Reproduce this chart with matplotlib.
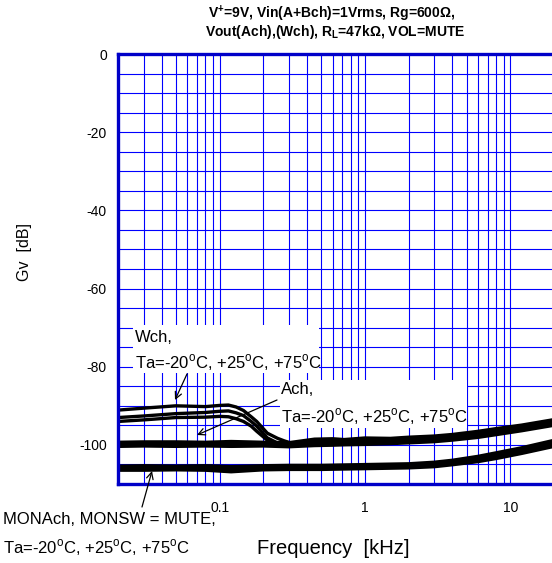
import matplotlib
matplotlib.use('Agg')
import matplotlib.pyplot as plt
from matplotlib.patches import Rectangle
from matplotlib.ticker import FixedLocator, LogLocator, NullFormatter

plt.rcParams['font.family'] = ['Liberation Sans', 'DejaVu Sans']
plt.rcParams['mathtext.fontset'] = 'custom'
plt.rcParams['mathtext.rm'] = 'Liberation Sans'
plt.rcParams['mathtext.bf'] = 'Liberation Sans:bold'
plt.rcParams['axes.unicode_minus'] = False

# Wch, three temperatures
freq_w = [0.02, 0.03, 0.05, 0.08, 0.1, 0.115, 0.13, 0.146, 0.165, 0.18, 0.213, 0.25, 0.28, 0.31, 0.35]
wch_m20 = [-91.1, -90.6, -90.0, -90.2, -89.9, -89.8, -90.3, -91.2, -92.8, -94.0, -97.0, -98.3, -99.0, -99.5, -99.8]
wch_p25 = [-93.0, -92.6, -92.0, -91.7, -91.4, -91.3, -91.8, -92.5, -94.0, -95.2, -98.2, -99.5, -99.8, -99.9, -99.9]
wch_p75 = [-94.0, -93.6, -93.0, -92.9, -92.7, -92.8, -93.3, -94.0, -95.2, -96.5, -98.8, -99.9, -100.0, -100.0, -100.0]

# Ach, three temperatures
freq_a = [0.02, 0.03, 0.05, 0.08, 0.12, 0.2, 0.3, 0.45, 0.6, 0.72, 1, 1.5, 2, 3, 4, 6, 8, 12, 20]
ach_m20 = [-99.4, -99.3, -99.3, -99.4, -99.2, -99.4, -99.5, -98.6, -98.5, -98.7, -98.3, -98.4, -98.1, -97.8, -97.4, -96.6, -95.9, -95.0, -93.6]
ach_p25 = [-99.9, -99.9, -99.8, -99.8, -99.9, -99.8, -100.0, -99.4, -99.3, -99.3, -99.1, -99.0, -98.8, -98.5, -98.1, -97.3, -96.6, -95.6, -94.2]
ach_p75 = [-100.3, -100.2, -100.3, -100.2, -100.3, -100.2, -100.4, -100.1, -100.0, -99.9, -99.8, -99.6, -99.4, -99.1, -98.7, -98.0, -97.3, -96.3, -94.9]

# MONAch, MONSW = MUTE
freq_m = [0.02, 0.03, 0.05, 0.08, 0.12, 0.2, 0.3, 0.5, 1, 2, 3, 4, 6, 8, 12, 20]
mon_m20 = [-105.5, -105.4, -105.5, -105.4, -105.6, -105.4, -105.3, -105.3, -105.1, -104.9, -104.5, -104.0, -103.0, -102.1, -100.8, -98.9]
mon_p25 = [-106.0, -105.9, -106.0, -105.9, -106.3, -105.9, -105.8, -105.8, -105.6, -105.4, -105.0, -104.5, -103.6, -102.7, -101.5, -99.6]
mon_p75 = [-106.4, -106.4, -106.3, -106.4, -106.8, -106.3, -106.2, -106.2, -106.0, -105.8, -105.5, -105.0, -104.2, -103.4, -102.1, -100.3]

x_ticks = [0.1, 1, 10]
x_ticklabels = ['0.1', '1', '10']
y_ticks = [0, -20, -40, -60, -80, -100]

W, H = 552, 563
fig = plt.figure(figsize=(W / 100, H / 100), dpi=100)
ax = fig.add_axes([118 / W, 1 - 484 / H, (554 - 118) / W, (484 - 54) / H])

for f, ys in [(freq_w, wch_m20), (freq_w, wch_p25), (freq_w, wch_p75)]:
    ax.plot(f, ys, color='black', lw=2.4, zorder=2, solid_capstyle='butt')
for f, ys in [(freq_a, ach_m20), (freq_a, ach_p25), (freq_a, ach_p75),
              (freq_m, mon_m20), (freq_m, mon_p25), (freq_m, mon_p75)]:
    ax.plot(f, ys, color='black', lw=2.8, zorder=2, solid_capstyle='butt')

ax.set_xscale('log')
ax.set_xlim(0.02, 20)
ax.set_ylim(-110, 0)
ax.xaxis.set_major_locator(FixedLocator(x_ticks))
ax.set_xticklabels(x_ticklabels)
ax.xaxis.set_minor_locator(LogLocator(base=10, subs=range(2, 10)))
ax.xaxis.set_minor_formatter(NullFormatter())
ax.set_yticks(y_ticks)
ax.yaxis.set_minor_locator(FixedLocator(range(-110, 1, 5)))
ax.set_axisbelow(True)
ax.grid(which='both', color='#0000FF', lw=0.8)
ax.tick_params(which='both', length=0, labelsize=10)
ax.tick_params(axis='y', pad=8)
ax.tick_params(axis='x', pad=12)
for s in ax.spines.values():
    s.set_color('#0000C8')
    s.set_linewidth(2.4)

# white boxes behind the labels
for x0, y0, x1, y1 in [(133, 325, 319, 373), (280, 380, 467, 428)]:
    ax.add_patch(Rectangle((x0 / W, 1 - y1 / H), (x1 - x0) / W, (y1 - y0) / H,
                           transform=fig.transFigure, facecolor='white',
                           edgecolor='none', zorder=1.5))

deg = r'$^{\rm o}$C'
ta = 'Ta=-20' + deg + ', +25' + deg + ', +75' + deg

def ftext(x, y, s, **kw):
    fig.text(x / W, 1 - y / H, s, va='center', **kw)

ftext(135, 337, 'Wch,', fontsize=12)
ftext(135, 363, ta, fontsize=12)
ftext(281, 390, 'Ach,', fontsize=12)
ftext(281, 417, ta, fontsize=12)
ftext(3, 520, 'MONAch, MONSW = MUTE,', fontsize=12)
ftext(3, 548, ta, fontsize=12)
ftext(333, 548, 'Frequency  [kHz]', fontsize=14.5, ha='center')
ftext(25, 252, 'Gv  [dB]', fontsize=11.5, ha='center', rotation=90)
ftext(332, 14, r'V$^{\mathbf{+}}$=9V, Vin(A+Bch)=1Vrms, Rg=600$\mathbf{\Omega}$,',
      fontsize=10, ha='center', fontweight='bold')
ftext(335, 32, r'Vout(Ach),(Wch), R$_{\mathbf{L}}$=47k$\mathbf{\Omega}$, VOL=MUTE',
      fontsize=10, ha='center', fontweight='bold')

arrow = dict(arrowstyle='->', lw=0.9, color='black', mutation_scale=12,
             shrinkA=0, shrinkB=0)
for (x0, y0), (x1, y1) in [((187, 374), (175, 400)),
                           ((277, 400), (197, 435)),
                           ((142, 507), (152, 471))]:
    ax.annotate('', xy=(x1, H - y1), xytext=(x0, H - y0),
                xycoords='figure pixels', textcoords='figure pixels',
                arrowprops=arrow, zorder=3, annotation_clip=False)

fig.savefig('out.png', dpi=100)
